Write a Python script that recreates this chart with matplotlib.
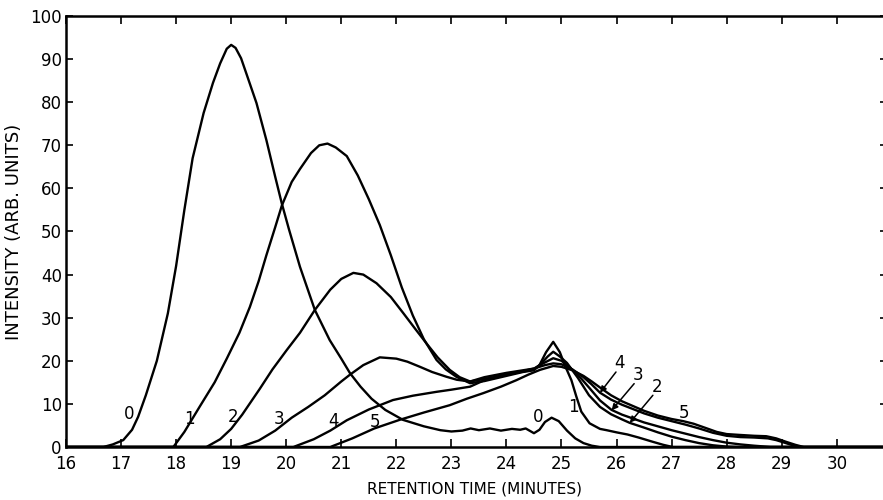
import numpy as np
import matplotlib.pyplot as plt

plt.rcParams['font.family'] = ['DejaVu Sans']

# curves: retention time (min) / intensity
t0 = [16.0, 16.68, 16.85, 17.04, 17.2, 17.31, 17.45, 17.65, 17.85, 18.0, 18.15, 18.3, 18.5,
      18.67, 18.8, 18.92, 19.0, 19.08, 19.18, 19.28, 19.46, 19.64, 19.8, 19.92, 20.05,
      20.25, 20.52, 20.79, 21.0, 21.16, 21.35, 21.55, 21.8, 22.12, 22.5, 22.8, 23.0, 23.2,
      23.35, 23.5, 23.7, 23.9, 24.1, 24.25, 24.35, 24.5, 24.6, 24.7, 24.82, 24.95, 25.1,
      25.25, 25.4, 25.55, 25.7, 30.84]
i0 = [0, 0, 0.6, 1.6, 4.0, 7.0, 12.0, 20.0, 31.0, 42.0, 55.0, 67.0, 77.5,
      84.5, 89.0, 92.4, 93.3, 92.6, 90.2, 86.5, 79.8, 71.2, 62.7, 56.5, 50.5,
      41.8, 31.8, 24.8, 20.5, 17.1, 14.0, 11.2, 8.6, 6.3, 4.8, 3.9, 3.6, 3.8,
      4.3, 3.9, 4.3, 3.8, 4.2, 4.0, 4.3, 3.2, 4.0, 5.8, 6.8, 6.0, 3.8,
      2.0, 0.9, 0.3, 0, 0]

t1 = [16.0, 17.95, 18.15, 18.43, 18.7, 18.92, 19.15, 19.34, 19.5, 19.64, 19.8, 19.92, 20.1,
      20.25, 20.45, 20.6, 20.75, 20.9, 21.1, 21.3, 21.5, 21.7, 21.9, 22.1, 22.3,
      22.5, 22.73, 22.9, 23.09, 23.34, 23.6, 24.0, 24.3, 24.5, 24.6, 24.72, 24.85,
      24.97, 25.06, 25.18, 25.27, 25.36, 25.51, 25.7, 25.82, 26.0, 26.2, 26.4, 26.66,
      26.85, 27.02, 30.84]
i1 = [0, 0, 3.5, 9.4, 15.0, 20.5, 26.5, 32.5, 38.5, 44.5, 51.0, 56.0, 61.5,
      64.5, 68.2, 70.0, 70.4, 69.5, 67.5, 63.0, 57.5, 51.5, 44.5, 37.0, 30.5,
      25.0, 20.2, 18.0, 16.3, 14.8, 15.3, 16.5, 17.4, 17.8, 19.0, 22.0, 24.4,
      22.0, 19.0, 15.5, 11.7, 8.2, 5.5, 4.2, 3.9, 3.4, 2.9, 2.2, 1.2,
      0.5, 0, 0]

t2 = [16.0, 18.55, 18.8, 19.0, 19.2, 19.52, 19.75, 20.01, 20.25, 20.52, 20.8, 21.0, 21.22,
      21.4, 21.64, 21.9, 22.13, 22.35, 22.55, 22.75, 22.97, 23.15, 23.34, 23.6, 24.0,
      24.3, 24.5, 24.62, 24.75, 24.85, 24.97, 25.1, 25.3, 25.5, 25.7, 25.9, 26.1,
      26.24, 26.5, 26.75, 27.0, 27.25, 27.5, 27.75, 28.0, 28.2, 30.84]
i2 = [0, 0, 1.8, 4.2, 7.5, 13.5, 18.0, 22.5, 26.5, 31.8, 36.5, 39.0, 40.4,
      40.0, 38.0, 34.8, 31.0, 27.3, 24.0, 20.8, 17.9, 16.2, 15.2, 15.8, 16.8,
      17.5, 18.0, 19.2, 21.0, 22.1, 21.0, 19.5, 16.0, 12.0, 9.3, 7.6, 6.4,
      5.6, 4.5, 3.4, 2.4, 1.6, 0.9, 0.4, 0.1, 0, 0]

t3 = [16.0, 19.16, 19.5, 19.8, 20.1, 20.4, 20.7, 21.0, 21.16, 21.4, 21.7, 22.0, 22.2,
      22.43, 22.65, 22.91, 23.1, 23.34, 23.6, 24.0, 24.3, 24.5, 24.65, 24.85, 25.0,
      25.15, 25.35, 25.5, 25.7, 25.91, 26.1, 26.3, 26.5, 26.75, 27.0, 27.25, 27.5,
      27.75, 28.0, 28.25, 28.5, 28.8, 30.84]
i3 = [0, 0, 1.5, 3.8, 6.8, 9.3, 12.0, 15.2, 16.8, 19.0, 20.8, 20.5, 19.8,
      18.6, 17.4, 16.3, 15.6, 15.2, 16.2, 17.2, 17.8, 18.2, 19.3, 20.6, 20.0,
      18.5, 16.0, 13.8, 10.8, 8.6, 7.5, 6.6, 5.7, 4.8, 3.9, 3.1, 2.3,
      1.6, 1.0, 0.6, 0.3, 0, 0]

t4 = [16.0, 20.13, 20.5, 20.8, 21.1, 21.5, 21.94, 22.3, 22.73, 23.0, 23.34, 23.6, 24.0,
      24.3, 24.5, 24.7, 24.85, 25.0, 25.2, 25.4, 25.55, 25.7, 25.9, 26.1, 26.3,
      26.5, 26.75, 27.0, 27.25, 27.5, 27.75, 28.0, 28.25, 28.5, 28.75, 28.9, 29.05,
      29.2, 29.35, 30.84]
i4 = [0, 0, 1.8, 3.8, 6.2, 8.7, 10.9, 11.9, 12.8, 13.3, 14.0, 15.5, 16.8,
      17.6, 18.2, 19.0, 19.4, 19.2, 18.0, 16.2, 14.5, 12.6, 11.0, 9.8, 8.8,
      7.8, 6.8, 6.0, 5.2, 4.3, 3.3, 2.6, 2.3, 2.2, 2.0, 1.6, 1.0,
      0.4, 0, 0]

t5 = [16.0, 20.8, 21.2, 21.6, 22.06, 22.5, 22.97, 23.28, 23.58, 23.9, 24.18, 24.4, 24.61,
      24.85, 25.0, 25.2, 25.4, 25.55, 25.7, 25.9, 26.1, 26.3, 26.5, 26.75, 27.0,
      27.21, 27.4, 27.6, 27.82, 28.0, 28.24, 28.5, 28.72, 28.9, 29.08, 29.25, 29.4,
      30.84]
i5 = [0, 0, 2.0, 4.3, 6.3, 8.0, 9.7, 11.2, 12.5, 14.0, 15.5, 16.8, 17.9,
      18.8, 18.6, 17.8, 16.5, 15.2, 13.8, 12.0, 10.6, 9.5, 8.4, 7.3, 6.5,
      6.0, 5.4, 4.5, 3.5, 3.0, 2.8, 2.6, 2.5, 2.0, 1.2, 0.5, 0,
      0]

curves = [(t0, i0), (t1, i1), (t2, i2), (t3, i3), (t4, i4), (t5, i5)]

# curve number labels
start_labels = ['0', '1', '2', '3', '4', '5']
start_x = [17.15, 18.24, 19.04, 19.86, 20.85, 21.61]
start_y = [7.6, 6.5, 6.9, 6.5, 6.1, 5.7]

fig = plt.figure(figsize=(8.83, 5.0), dpi=100)
ax = fig.add_axes([66 / 883, 53 / 500, 817 / 883, 431 / 500])

for t, i in curves:
    ax.plot(t, i, color='black', lw=1.7, solid_joinstyle='round')

for lab, x, y in zip(start_labels, start_x, start_y):
    ax.text(x, y, lab, fontsize=12, ha='center', va='center')

ax.text(24.57, 6.9, '0', fontsize=12, ha='center', va='center')
ax.text(25.22, 9.2, '1', fontsize=12, ha='center', va='center')
ax.text(27.23, 8.0, '5', fontsize=12, ha='center', va='center')

# arrowed labels on the tails
arrow_labels = ['4', '3', '2']
arrow_text = [(26.06, 19.4), (26.39, 16.7), (26.73, 14.0)]
arrow_tip = [(25.70, 12.6), (25.91, 8.5), (26.24, 5.6)]
for lab, (tx, ty), (px, py) in zip(arrow_labels, arrow_text, arrow_tip):
    ax.text(tx, ty, lab, fontsize=12, ha='center', va='center')
    ax.annotate('', xy=(px, py), xytext=(tx - 0.07, ty - 2.0),
                arrowprops=dict(arrowstyle='-|>', color='black', lw=1.1,
                                mutation_scale=9, shrinkA=0, shrinkB=0))

ax.set_xlim(16, 30.84)
ax.set_ylim(0, 100)
ax.set_xticks(range(16, 31))
ax.set_yticks(range(0, 101, 10))
ax.tick_params(axis='both', direction='in', length=6, width=1.2, labelsize=12,
               top=True, right=True)
ax.tick_params(axis='x', pad=6)
ax.tick_params(axis='y', length=5, pad=3)
for tk in ax.yaxis.get_major_ticks():
    tk.tick2line.set_markersize(2.5)

ax.spines['right'].set_visible(False)
for s in ['left', 'bottom', 'top']:
    ax.spines[s].set_linewidth(1.8)

ax.set_xlabel('RETENTION TIME (MINUTES)', fontsize=11, labelpad=6)
ax.set_ylabel('INTENSITY (ARB. UNITS)', fontsize=13, labelpad=5)

fig.savefig('out.png', dpi=100)
